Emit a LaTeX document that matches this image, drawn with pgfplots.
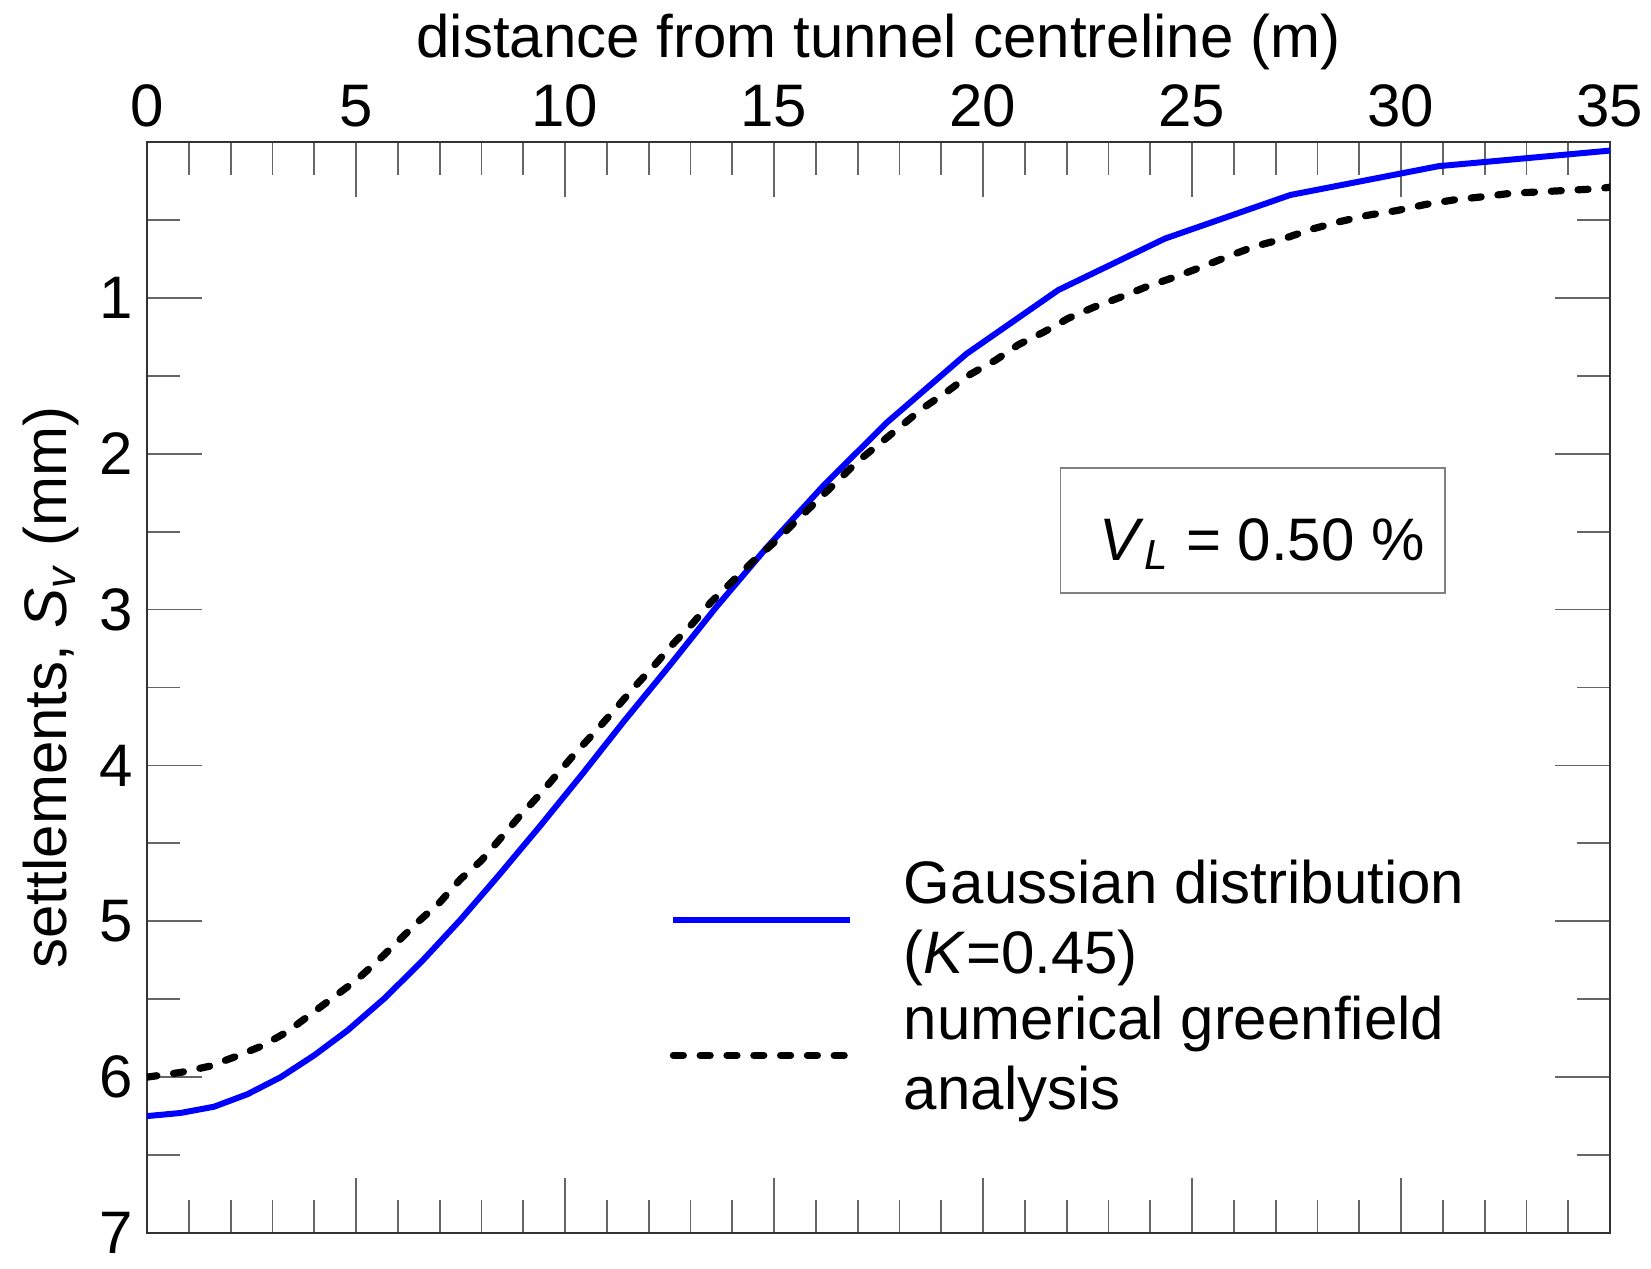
\documentclass[border=0pt]{standalone}
\usepackage{fontspec}
\setmainfont{Liberation Sans}
\usepackage{pgfplots}
\pgfplotsset{compat=1.18}
\usetikzlibrary{calc}

\begin{document}
\begin{tikzpicture}[font=\fontsize{15}{17.5}\selectfont]
\begin{axis}[
  scale only axis, width=365.75pt, height=272.75pt,
  xmin=0, xmax=35, ymin=0, ymax=7, y dir=reverse,
  xtick={0,5,...,35}, minor x tick num=4,
  ytick={0,...,7}, yticklabels={{},1,2,3,4,5,6,7},
  minor ytick={0.5,1.5,...,6.5},
  xtick pos=both, ytick pos=both,
  xticklabel pos=right, yticklabel pos=left,
  tick align=inside,
  major tick length=13.75pt, minor tick length=8.25pt,
  axis line style={black!80, line width=0.6pt},
  tick style={black!60, line width=0.45pt},
  /pgf/number format/assume math mode=true,
  xticklabel style={inner sep=3.5pt},
  yticklabel style={inner ysep=0pt},
  xlabel={distance from tunnel centreline (m)},
  xlabel style={at={(axis description cs:0.5,1.0779)}, anchor=base},
  ylabel={settlements, \textit{S}\textsubscript{\textit{v}} (mm)},
  ylabel style={at={(axis description cs:-0.0547,0.5)}, anchor=base},
  legend cell align=left,
  legend style={draw=none, fill=none, at={(axis description cs:0.3568,0.3498)},
    anchor=north west, inner sep=0pt, row sep=0pt, column sep=10.5pt,
    cells={align=left}},
  legend image code/.code={\draw[#1] (0pt,0pt) -- (44.25pt,0pt);},
]
\addplot[blue, line width=1.5pt] coordinates {
(0,6.25)(0.8,6.23)(1.6,6.19)(2.4,6.11)(3.2,6.00)(4.0,5.86)(4.8,5.70)
(5.7,5.49)(6.6,5.25)(7.5,4.99)(8.4,4.71)(9.4,4.39)(10.4,4.06)(11.4,3.72)
(12.5,3.36)(13.6,2.99)(14.8,2.61)(16.2,2.20)(17.7,1.80)(19.6,1.36)
(21.8,0.95)(24.35,0.62)(27.35,0.34)(30.9,0.155)(35.0,0.055)};
\addlegendentry{Gaussian distribution\\(\textit{K}=0.45)}
\addplot[black, line width=1.8pt, line cap=round, dash pattern=on 2.5pt off 4.2pt] coordinates {
(0,6.00)(0.8,5.97)(1.5,5.93)(2.1,5.87)(2.75,5.80)(3.35,5.71)(3.9,5.60)
(4.45,5.49)(5.0,5.38)(5.5,5.26)(6.0,5.13)(6.5,5.00)(7.0,4.88)(7.5,4.73)
(8.0,4.61)(8.45,4.47)(8.9,4.33)(9.35,4.20)(9.8,4.06)(10.25,3.92)(10.7,3.79)
(11.2,3.64)(11.65,3.50)(12.1,3.37)(12.55,3.23)(13.05,3.09)(13.5,2.95)
(14.0,2.82)(14.5,2.69)(15.0,2.57)(15.5,2.44)(16.0,2.31)(16.5,2.18)(17.0,2.05)
(17.55,1.93)(18.05,1.82)(18.55,1.71)(19.15,1.60)(19.7,1.49)(20.3,1.40)
(20.85,1.30)(21.45,1.22)(22.05,1.13)(22.65,1.06)(23.25,1.00)(23.9,0.93)
(24.55,0.87)(25.25,0.80)(25.9,0.73)(26.5,0.67)(27.2,0.62)(27.85,0.56)
(28.55,0.51)(29.2,0.47)(29.9,0.44)(30.6,0.40)(31.3,0.37)(32.0,0.35)
(32.6,0.33)(33.3,0.32)(34.0,0.31)(34.7,0.30)(35.0,0.29)};
\addlegendentry{numerical greenfield\\analysis}
\node[draw=black!50, line width=0.45pt, minimum width=94.75pt,
  inner xsep=5pt, inner ysep=0pt, text height=23pt, text depth=8.25pt]
  at (axis cs:26.45,2.493)
  {\hspace*{4.75pt}\textit{V}\textsubscript{\textit{L}} = 0.50 \%};
\end{axis}
\pgfresetboundingbox
\path ($(current axis.south west)+(-36.75pt,-9pt)$) rectangle
  ($(current axis.north east)+(10.25pt,35.5pt)$);
\end{tikzpicture}
\end{document}
